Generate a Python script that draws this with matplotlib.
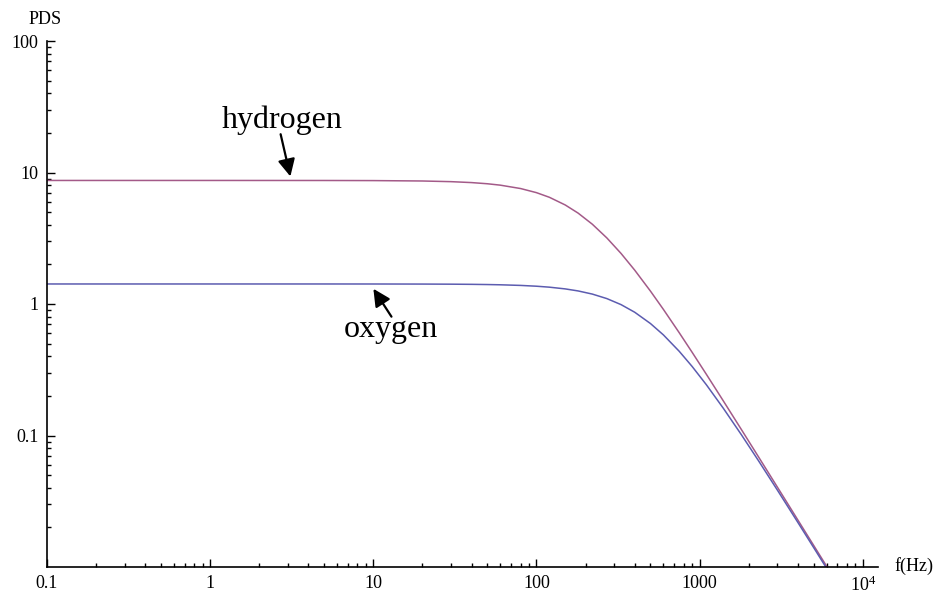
"""
Espectro de potencia (PDS) de hidrogeno y oxigeno, escala log-log
"""

import numpy as np
import matplotlib.pyplot as plt
from matplotlib.ticker import FixedLocator, LogLocator, NullFormatter

plt.rcParams['font.family'] = ['Liberation Serif', 'DejaVu Serif']
plt.rcParams['mathtext.fontset'] = 'custom'
plt.rcParams['mathtext.rm'] = 'Liberation Serif'
plt.rcParams['mathtext.it'] = 'Liberation Serif:italic'

# frecuencias (Hz) y valores
f = [0.1, 1, 5, 10, 20, 30, 40, 50, 60, 80, 100, 120, 150, 180, 220, 270,
     330, 400, 500, 600, 750, 900, 1100, 1400, 1800, 2300, 3000, 4000, 5000,
     6500, 8000, 10000, 12500]
hidrogeno = [8.7, 8.7, 8.695, 8.679, 8.618, 8.518, 8.381, 8.211, 8.013, 7.550,
             7.027, 6.479, 5.666, 4.912, 4.043, 3.181, 2.423, 1.810, 1.252,
             0.9094, 0.6048, 0.4291, 0.2920, 0.1826, 0.1114, 0.06857, 0.04043,
             0.02279, 0.01460, 0.008646, 0.005709, 0.003655, 0.002339]
oxigeno = [1.42, 1.42, 1.4199, 1.4194, 1.4177, 1.4149, 1.4110, 1.4059, 1.3998,
           1.3846, 1.3654, 1.3427, 1.3028, 1.2571, 1.1897, 1.0994, 0.9891,
           0.8659, 0.71, 0.5820, 0.4369, 0.3349, 0.2432, 0.1606, 0.1017,
           0.06408, 0.03838, 0.02185, 0.01406, 0.008353, 0.005525, 0.003541,
           0.002268]

xticks = [0.1, 1, 10, 100, 1000, 1e4]
xlabels = ['0.1', '1', '10', '100', '1000', r'$\mathrm{10^4}$']
yticks = [0.1, 1, 10, 100]
ylabels = ['0.1', '1', '10', '100']

fig = plt.figure(figsize=(9.4, 6), dpi=100)
ax = fig.add_axes([47/940, 1-567/600, (878-47)/940, (567-41)/600])

ax.loglog(f, hidrogeno, color='#a35a88', lw=1.1)
ax.loglog(f, oxigeno, color='#5c5cb0', lw=1.1)

ax.set_xlim(0.1, 12400)
ax.set_ylim(0.01, 100)

ax.spines['top'].set_visible(False)
ax.spines['right'].set_visible(False)
for s in ['left', 'bottom']:
    ax.spines[s].set_linewidth(1.2)

ax.xaxis.set_major_locator(FixedLocator(xticks))
ax.set_xticklabels(xlabels)
ax.yaxis.set_major_locator(FixedLocator(yticks))
ax.set_yticklabels(ylabels)
ax.xaxis.set_minor_locator(LogLocator(base=10, subs=np.arange(2, 10)))
ax.yaxis.set_minor_locator(LogLocator(base=10, subs=np.arange(2, 10)))
ax.xaxis.set_minor_formatter(NullFormatter())
ax.yaxis.set_minor_formatter(NullFormatter())
ax.tick_params(which='major', direction='in', length=6, width=1, labelsize=13, pad=6)
ax.tick_params(which='minor', direction='in', length=3, width=1)

fig.text(45/940, 1-20/600, 'PDS', fontsize=13, ha='center', va='center')
fig.text(914/940, 1-566/600, 'f(Hz)', fontsize=13, ha='center', va='center')

# etiquetas con flecha
ax.text(2.75, 21.9, 'hydrogen', fontsize=23, ha='center', va='baseline')
ax.annotate('', xy=(3.13, 8.9), xytext=(2.68, 20.5),
            arrowprops=dict(arrowstyle='-|>', color='k', lw=1.6, mutation_scale=26))
ax.text(12.8, 0.562, 'oxygen', fontsize=23, ha='center', va='baseline')
ax.annotate('', xy=(9.8, 1.36), xytext=(13.2, 0.769),
            arrowprops=dict(arrowstyle='-|>', color='k', lw=1.6, mutation_scale=26))

fig.savefig('out.png', dpi=100)
